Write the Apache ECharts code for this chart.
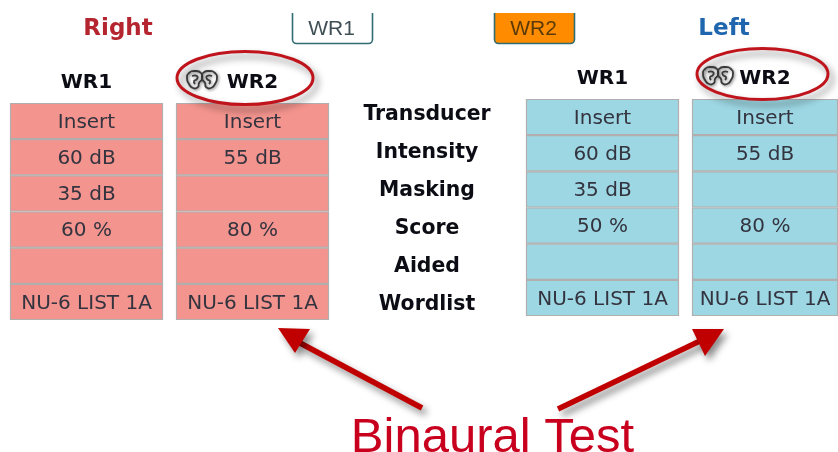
<!DOCTYPE html>
<html><head><meta charset="utf-8">
<style>html,body{margin:0;padding:0;background:#fff}#c{width:838px;height:452px}</style>
<script src="https://cdn.jsdelivr.net/npm/echarts@6/dist/echarts.min.js"></script>
</head><body><div id="c"></div>
<script>
const rowNames = ['Transducer','Intensity','Masking','Score','Aided','Wordlist'];
const rightWR1 = ['Insert','60 dB','35 dB','60 %','','NU-6 LIST 1A'];
const rightWR2 = ['Insert','55 dB','','80 %','','NU-6 LIST 1A'];
const leftWR1 = ['Insert','60 dB','35 dB','50 %','','NU-6 LIST 1A'];
const leftWR2 = ['Insert','55 dB','','80 %','','NU-6 LIST 1A'];
const RED = '#f4948e', BLUE = '#9dd7e3', EDGE = '#b2aeae';
const FONT = '"DejaVu Sans"';

const tables = [
  {head:'WR1', vals:rightWR1, left:10,  top:103, color:RED},
  {head:'WR2', vals:rightWR2, left:176, top:103, color:RED},
  {head:'WR1', vals:leftWR1,  left:526, top:99,  color:BLUE},
  {head:'WR2', vals:leftWR2,  left:692, top:99,  color:BLUE}
];
const idx = rowNames.map((_,i)=>i);
const grid=[],xAxis=[],yAxis=[],series=[];
tables.forEach((t,i)=>{
  grid.push({left:t.left,top:t.top,width:153,height:217,show:false,containLabel:false});
  xAxis.push({type:'category',gridIndex:i,position:'top',data:[t.head],
    axisLine:{show:false},axisTick:{show:false},
    axisLabel:{margin:10,interval:0,fontFamily:FONT,fontWeight:'bold',fontSize:20,color:'#0c0c14'}});
  yAxis.push({type:'category',gridIndex:i,inverse:true,data:idx,show:false});
  series.push({type:'custom',xAxisIndex:i,yAxisIndex:i,silent:true,clip:false,
    data:t.vals.map((v,r)=>[0,r,v]),
    renderItem:(p,api)=>{
      const c=api.coord([0,api.value(1)]), s=api.size([1,1]);
      return {type:'rect',
        shape:{x:c[0]-s[0]/2+.5,y:c[1]-s[1]/2+.5,width:s[0]-1,height:s[1]-1},
        style:{fill:t.color,stroke:EDGE,lineWidth:1.2},
        textContent:{style:{text:t.vals[api.value(1)],fill:'#33343f',font:'20px '+FONT,align:'center',verticalAlign:'middle'}},
        textConfig:{position:'inside',offset:[0,1.5]}};
    }});
});
// centre column of row names
grid.push({left:427,top:96,width:1,height:228,show:false});
xAxis.push({type:'category',gridIndex:4,show:false,data:['']});
yAxis.push({type:'category',gridIndex:4,inverse:true,data:rowNames,
  axisLine:{show:false},axisTick:{show:false},
  axisLabel:{margin:0,align:'center',interval:0,fontFamily:FONT,fontWeight:'bold',fontSize:20.4,color:'#0c0c14'}});
series.push({type:'custom',xAxisIndex:4,yAxisIndex:4,data:[],renderItem:()=>null});

const shadow={shadowBlur:7,shadowColor:'rgba(0,0,0,.45)',shadowOffsetX:4,shadowOffsetY:5};
function ears(x,y){
  const outer=[[8,0],[14,2],[15,8],[12,12],[11,16],[6,17],[2,13],[0,7],[2,2]];
  const inner=[[5,5],[10,5],[10,8],[7,10],[8,13]];
  const mk=(pts,flip,closed)=>{
    const p=pts.map(q=>[x+(flip?30-q[0]:q[0]),y+q[1]]);
    return {type:closed?'polygon':'polyline',z:6,shape:{points:p,smooth:.6},
      style:{fill:'none',stroke:'#3a3a3a',lineWidth:1.8,shadowBlur:3,shadowColor:'rgba(0,0,0,.5)',shadowOffsetX:1,shadowOffsetY:1}};
  };
  return [mk(outer,false,true),mk(inner,false,false),mk(outer,true,true),mk(inner,true,false)];
}
function button(x,fill,txt){
  return [{type:'rect',z:3,shape:{x:x,y:4,width:80,height:39.5,r:4},style:{fill:fill,stroke:'#2f6c74',lineWidth:1.6}},
          {type:'text',z:5,x:x+39,y:29,style:{text:txt,font:'21px "Liberation Sans"',fill:fill==='#fff'?'#3f4f55':'#5a3a08',align:'center',verticalAlign:'middle'}}];
}
function arrow(tail,neck,tri){
  return [{type:'polyline',z:7,shape:{points:[tail,neck]},style:{stroke:'#c00000',lineWidth:5.5,fill:'none',...shadow}},
          {type:'polygon',z:8,shape:{points:tri},style:{fill:'#c00000',...shadow}}];
}
const graphic=[
  ...button(292.5,'#fff','WR1'),
  ...button(494.5,'#ff8c00','WR2'),
  {type:'rect',z:4,shape:{x:280,y:0,width:310,height:13},style:{fill:'#fff'}},
  {type:'text',z:5,x:118,y:29,style:{text:'Right',font:'bold 23px "DejaVu Sans"',fill:'#b5252f',align:'center',verticalAlign:'middle'}},
  {type:'text',z:5,x:724,y:29,style:{text:'Left',font:'bold 23px "DejaVu Sans"',fill:'#1f66ae',align:'center',verticalAlign:'middle'}},
  {type:'ellipse',z:5,shape:{cx:245,cy:78,rx:68,ry:26.5},style:{fill:'none',stroke:'#c0141c',lineWidth:3,...shadow}},
  {type:'ellipse',z:5,shape:{cx:762.5,cy:74,rx:65.5,ry:25.5},style:{fill:'none',stroke:'#c0141c',lineWidth:3,...shadow}},
  ...ears(187,71),
  ...ears(703,67),
  ...arrow([422,408],[300,343],[[278,328],[310,329],[295,353]]),
  ...arrow([558,409],[702,340],[[724,329],[692,329],[705,356]]),
  {type:'text',z:9,x:492.5,y:438,style:{text:'Binaural Test',font:'49px "Liberation Sans"',fill:'#c8001e',align:'center',verticalAlign:'middle'}}
];
const chart=echarts.init(document.getElementById('c'),null,{renderer:'canvas'});
chart.setOption({animation:false,backgroundColor:'#fff',grid,xAxis,yAxis,series,graphic});
</script></body></html>
